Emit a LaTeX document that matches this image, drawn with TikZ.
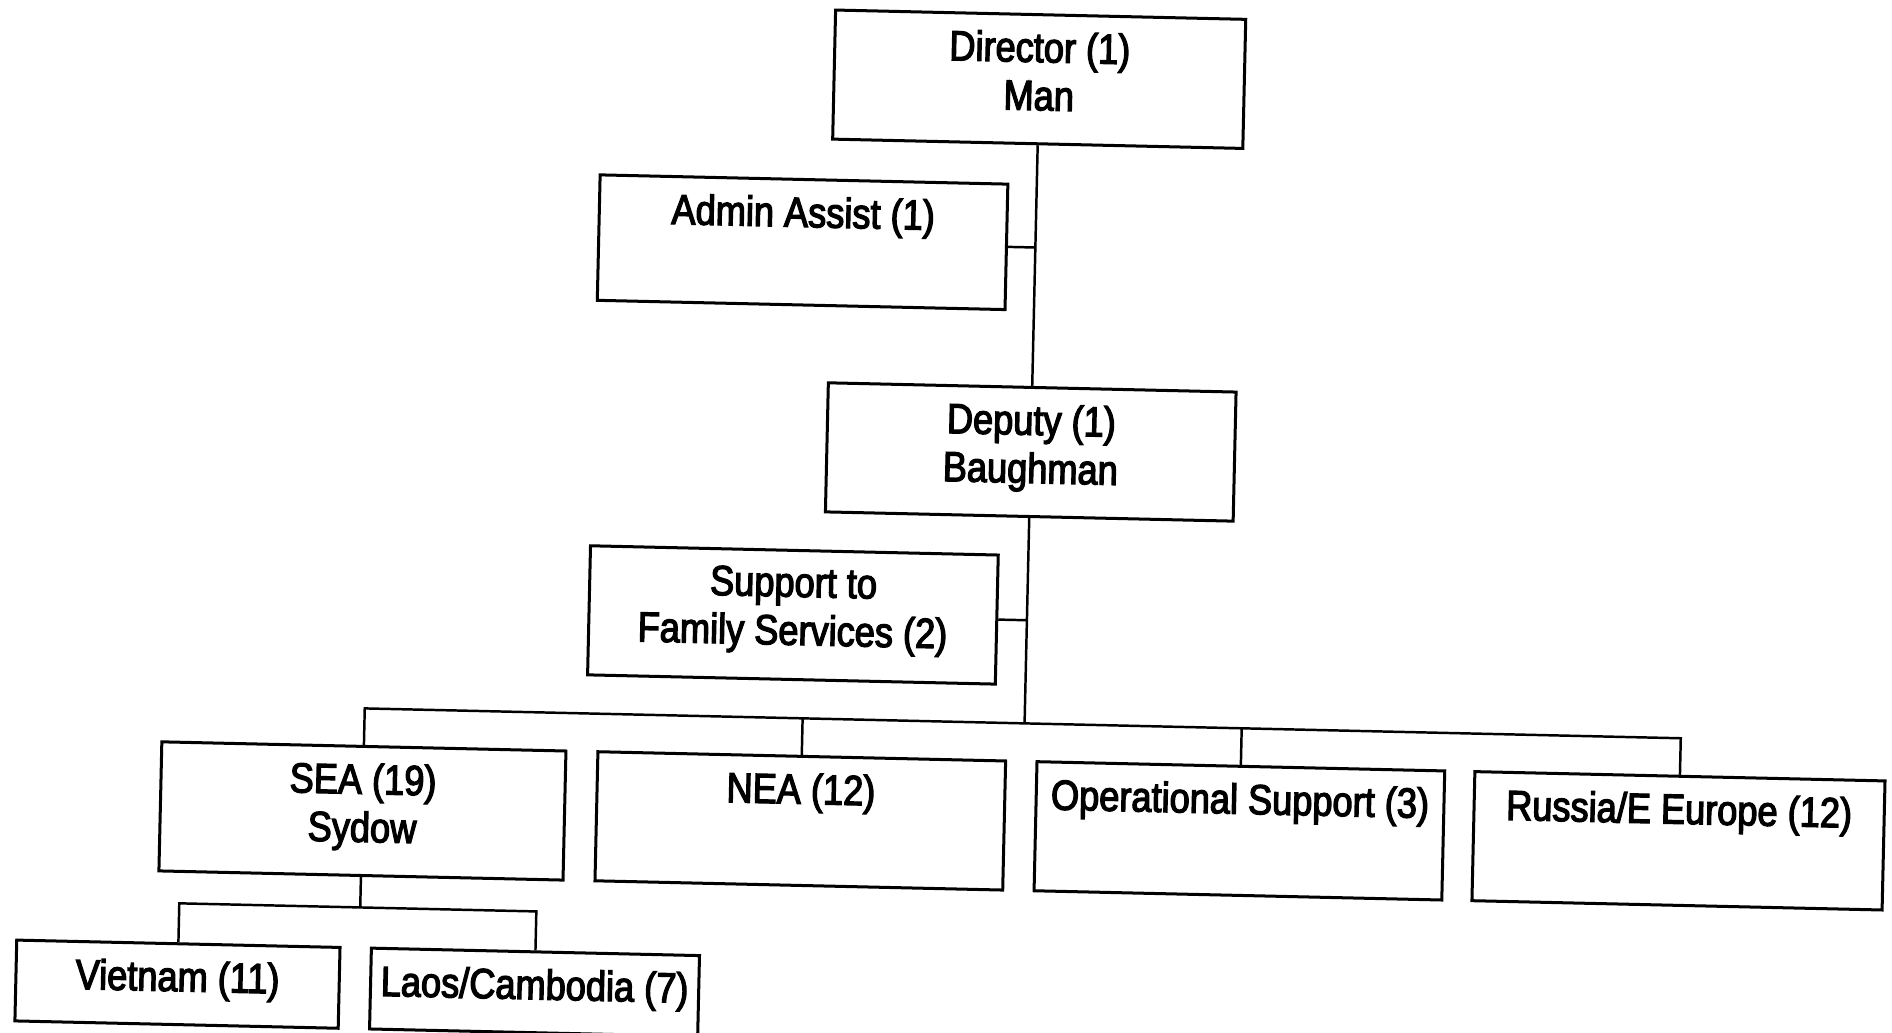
\documentclass[tikz,border=0pt]{standalone}
\usepackage{fontspec}
\setmainfont{Liberation Sans}[FakeStretch=0.86,FakeBold=3]
\begin{document}
\begin{tikzpicture}[x=0.012cm,y=-0.012cm,
  orgbox/.style={draw, line width=0.85pt, inner sep=0pt,
    minimum width=338*0.012cm, minimum height=107*0.012cm},
  smallbox/.style={orgbox, minimum width=270*0.012cm, minimum height=67*0.012cm},
  caption/.style={font=\fontsize{11.9}{13.6}\selectfont, align=center,
    inner sep=0pt, anchor=north},
  link/.style={line width=0.7pt}]
\useasboundingbox (0,0) rectangle (1568,856);
\clip (0,0) rectangle (1568,856);
\begin{scope}[rotate around={-1.3:(784,428)}, transform shape]
  % boxes
  \node[orgbox, minimum width=340*0.012cm] (dir) at (853,64) {};
  \node[orgbox, minimum height=104*0.012cm] (adm) at (660,203.5) {};
  \node[orgbox] (dep) at (853,373) {};
  \node[orgbox] (sup) at (659,512.5) {};
  \node[orgbox, minimum width=335*0.012cm] (sea) at (306,683) {};
  \node[orgbox] (nea) at (669,683) {};
  \node[orgbox] (ops) at (1033,683) {};
  \node[orgbox, minimum width=340*0.012cm] (rus) at (1397,683) {};
  \node[smallbox, minimum width=268*0.012cm] (viet) at (156,830) {};
  \node[smallbox, minimum width=272*0.012cm] (laos) at (452,830) {};
  % captions
  \node[caption] (dirT) at (853,24) {Director (1)\\Man};
  \node[caption] (admT) at (660,165) {Admin Assist (1)};
  \node[caption] (depT) at (853,333) {Deputy (1)\\Baughman};
  \node[caption] (supT) at (659,472.5) {Support to\\Family Services (2)};
  \node[caption] (seaT) at (306,643) {SEA (19)\\Sydow};
  \node[caption] (neaT) at (669,643) {NEA (12)};
  \node[caption] (opsT) at (1033,643) {Operational Support (3)};
  \node[caption] (rusT) at (1397,643) {Russia/E Europe (12)};
  \node[caption] (vietT) at (156,810) {Vietnam (11)};
  \node[caption] (laosT) at (452,810) {Laos/Cambodia (7)};
  % connectors
  \coordinate (bus) at (853,598);
  \coordinate (sub) at (306,763);
  \draw[link] (dir.south) -- (dep.north);
  \draw[link] (adm.east) -- (adm.east -| dir.south);
  \draw[link] (sup.east) -- (sup.east -| dep.south);
  \draw[link] (dep.south) -- (bus);
  \draw[link] (sea.north) -- (sea.north |- bus) -- (rus.north |- bus) -- (rus.north);
  \draw[link] (nea.north |- bus) -- (nea.north);
  \draw[link] (ops.north |- bus) -- (ops.north);
  \draw[link] (sea.south) -- (sub);
  \draw[link] (viet.north) -- (viet.north |- sub) -- (laos.north |- sub) -- (laos.north);
\end{scope}
\end{tikzpicture}
\end{document}
